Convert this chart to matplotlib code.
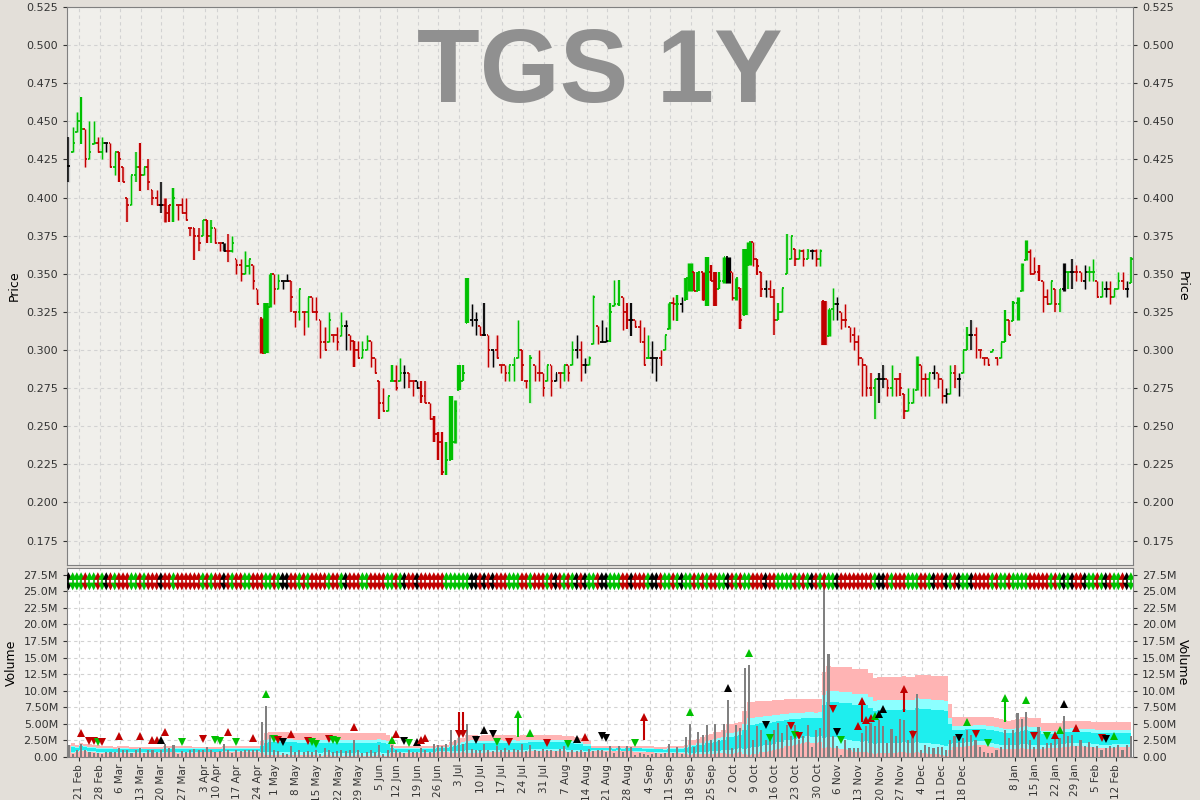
import matplotlib
matplotlib.use('Agg')
import matplotlib.pyplot as plt
import numpy as np
import pandas as pd

plt.rcParams['font.family'] = ['DejaVu Sans']

# ---- price bars, read left to right in four stretches (high, low, close, colour) ----
# colour: g = up day, r = down day, k = unchanged
high_1 = [.440,.446,.456,.466,.445,.450,.450,.440,.440,.436,.436,.430,.430,.420,.400,.415,.430,.436,.420,.425,
          .405,.405,.410,.400,.395,.406,.395,.400,.400,.380,.380,.380,.385,.385,.385,.380,.370,.370,.376,.375,
          .360,.360,.365,.360,.356,.340,.321,.331,.350,.350,.350,.345,.350,.345,.325,.340,.325,.335,.335,.335,
          .320,.315,.325,.310,.315]
low_1 = [.410,.430,.443,.435,.420,.425,.435,.430,.425,.430,.420,.415,.410,.410,.384,.395,.410,.404,.415,.405,
         .395,.395,.390,.384,.384,.384,.385,.390,.385,.375,.359,.365,.375,.370,.370,.370,.365,.365,.358,.364,
         .350,.345,.350,.350,.340,.330,.298,.298,.328,.330,.340,.340,.345,.325,.315,.320,.310,.315,.325,.320,
         .295,.300,.305,.305,.300]
close_1 = [.421,.436,.450,.445,.425,.430,.436,.430,.436,.436,.420,.430,.425,.410,.395,.415,.420,.415,.420,.410,
           .400,.395,.395,.390,.395,.400,.395,.390,.385,.380,.375,.370,.385,.375,.380,.370,.370,.365,.365,.370,
           .356,.350,.355,.360,.345,.330,.298,.320,.350,.340,.345,.345,.345,.335,.325,.340,.325,.335,.325,.325,
           .305,.300,.320,.310,.305]
colour_1 = "kgggrggrgkrgrrrggrgrrrkrrgrrrrrrgrgrrkrgrrggrrrgg" "rgkkrrgrgrrrrgrr"

high_2 = [.325,.320,.310,.306,.306,.306,.310,.306,.295,.280,.275,.270,.290,.290,.295,.290,.285,.280,.280,.280,
          .280,.265,.257,.246,.246,.240,.270,.267,.290,.290,.347,.330,.325,.316,.331,.310,.300,.310,.290,.290,
          .290,.295,.320,.300,.280,.297,.290,.300,.285,.290,.290,.285,.285,.290,.290,.306,.310,.306,.295,.296,
          .336,.316,.320]
low_2 = [.309,.300,.300,.289,.295,.295,.300,.289,.285,.255,.260,.260,.280,.274,.280,.275,.275,.270,.275,.265,
         .265,.255,.240,.228,.218,.218,.228,.239,.274,.280,.318,.316,.310,.310,.309,.289,.289,.295,.285,.280,
         .280,.280,.295,.280,.275,.265,.280,.280,.270,.280,.270,.280,.275,.280,.280,.290,.295,.280,.285,.290,
         .304,.304,.305]
close_2 = [.316,.316,.306,.300,.295,.300,.306,.295,.285,.265,.260,.270,.280,.275,.285,.285,.280,.280,.275,.270,
           .265,.255,.245,.240,.220,.228,.240,.260,.280,.285,.320,.320,.320,.310,.310,.300,.300,.295,.290,.285,
           .290,.295,.300,.290,.280,.295,.285,.285,.275,.290,.280,.285,.285,.290,.285,.300,.300,.290,.290,.295,
           .335,.305,.305]
colour_2 = "gkrrrggrrrrggrgkrrkrrrrrrggggggkkrkrkrrrgggrrgrrrgrkrgrgkrkggrk"

high_3 = [.315,.331,.346,.346,.335,.331,.331,.320,.320,.315,.310,.306,.295,.300,.310,.331,.335,.336,.335,.347,
          .357,.351,.351,.351,.361,.356,.351,.351,.361,.361,.351,.347,.341,.366,.371,.371,.360,.351,.346,.346,
          .340,.331,.341,.376,.375,.366,.366,.366,.366,.366,.366,.366,.332,.327,.341,.335,.325,.330,.315,.315,
          .310]
low_3 = [.305,.305,.329,.329,.313,.314,.309,.315,.305,.290,.295,.285,.280,.290,.300,.314,.320,.319,.325,.333,
         .339,.339,.339,.333,.329,.345,.329,.340,.344,.344,.333,.333,.314,.323,.356,.355,.349,.335,.335,.335,
         .310,.320,.325,.350,.360,.355,.360,.355,.360,.360,.355,.355,.303,.309,.320,.320,.314,.315,.305,.300,
         .290]
close_3 = [.306,.325,.330,.341,.325,.320,.320,.315,.305,.290,.295,.295,.295,.290,.310,.331,.330,.330,.330,.347,
           .351,.339,.351,.333,.351,.345,.340,.345,.361,.351,.334,.347,.320,.356,.371,.360,.355,.340,.340,.335,
           .320,.325,.341,.360,.375,.360,.365,.360,.365,.365,.360,.365,.305,.327,.330,.330,.320,.320,.310,.305,
           .295]
colour_3 = "kgggrrkrrrgkkrggrgkggrgrgrrggkrgrggrrrkrrggggrgrgkrgrggkrrrrr"

high_4 = [.295,.290,.285,.281,.285,.290,.281,.290,.281,.285,.271,.275,.275,.296,.290,.285,.285,.290,.285,.281,
          .275,.290,.290,.285,.300,.315,.320,.315,.300,.295,.295,.300,.295,.305,.326,.320,.332,.335,.357,.372,
          .366,.361,.356,.345,.340,.345,.340,.340,.357,.351,.360,.356,.351,.356,.355,.360,.345,.345,.345,.345,
          .340,.351,.351,.345,.361]
low_4 = [.270,.270,.270,.255,.265,.275,.270,.270,.270,.270,.255,.260,.265,.274,.270,.270,.270,.281,.275,.265,
         .265,.271,.275,.270,.285,.300,.300,.295,.295,.290,.290,.299,.290,.295,.305,.310,.319,.320,.339,.359,
         .350,.350,.345,.325,.330,.330,.325,.325,.339,.340,.340,.345,.345,.340,.345,.345,.335,.335,.335,.330,
         .335,.340,.340,.335,.344]
close_4 = [.290,.275,.275,.281,.281,.281,.275,.285,.281,.275,.260,.265,.271,.290,.281,.281,.285,.285,.281,.270,
           .271,.285,.281,.281,.300,.310,.310,.300,.300,.295,.290,.300,.295,.305,.320,.310,.331,.331,.356,.364,
           .350,.351,.351,.335,.330,.345,.330,.340,.351,.351,.351,.351,.345,.351,.351,.351,.335,.340,.340,.335,
           .340,.345,.340,.340,.360]
colour_4 = "rrrgkkrgrrrgggrrgkrrkgrkggkrrrrgrggrggggrrrrrgrgkgkrrkggrgkrggrkg"

# ---- daily volume, millions ----
volume_m = [1.75,0.5,1.1,1.9,1.0,0.75,0.6,0.6,0.5,0.75, 0.75,0.75,1.4,1.0,1.1,0.6,1.0,1.4,0.6,1.0,
            1.0,0.75,1.0,1.9,1.4,1.75,0.5,0.9,0.75,1.0, 1.25,1.0,1.0,1.5,1.1,0.75,0.9,2.0,1.1,0.6,
            1.0,0.9,1.0,1.0,1.0,1.0,
            5.25,7.75,3.25,1.0,0.9, 0.6,0.5,1.6,0.75,1.0, 0.75,0.9,0.75,1.0,0.5, 1.4,1.0,0.75,0.9,1.1,
            0.9,1.1,2.6,1.0,0.6, 0.75,1.0,0.75,1.75,0.5, 1.0,1.75,1.0,0.75,0.6, 1.0,0.75,0.75,1.4,1.0,
            0.75,1.9,1.75,1.6,1.9, 4.1,2.6,4.5,2.0,5.0, 1.25,1.0,1.1,2.0,1.1, 0.9,1.6,1.0,1.4,1.1,
            1.25,1.0,2.0,0.9,1.75, 1.1,0.9,1.25,1.0,1.1, 0.9,1.25,1.6,0.75,1.1, 0.9,
            1.0,0.8,1.2,0.9,1.0,
            1.05,0.8,1.6,0.55,1.6,0.8,1.6,1.55,0.3,0.55, 0.45,0.3,0.45,0.55,0.45,0.55,1.95,0.55,1.55,0.4,
            3.0,5.0,1.45,3.7,3.3,4.8,2.6,5.0,2.6,5.0, 8.6,1.3,4.8,4.3,13.4,13.9,2.6,4.6,4.1,2.6,
            2.6,4.0,5.1,3.6,4.8,3.1,4.8,2.6,3.1,4.8, 1.55,4.1,4.3,27.5,15.6,3.1,1.7,0.3,2.6,1.3,
            1.3,1.3,3.6,4.6,5.1,4.7,5.6,4.7,2.1,4.2, 3.1,5.7,5.6,2.6,4.1,9.5,1.05,1.8,1.55,1.3,
            1.55,1.55,1.05,2.6,3.1,2.3,2.8,4.1,3.3,2.6, 1.55,0.8,0.55,0.65,1.05,1.55,4.0,2.8,4.0,6.6,
            5.8,6.8,2.6,1.55,4.5,1.55,2.1,2.1,2.7,2.8, 6.2,3.1,3.3,1.65,2.6,1.65,2.3,1.45,1.65,1.05,
            1.3,1.65,1.45,1.8,1.05,1.8,3.1]

# volume signals: (day, level in M, colour, pointing up?)
signals = [(3,3.6,'r',1),(5,2.4,'r',0),(6,2.4,'r',0),(7,2.25,'g',0),(8,2.25,'r',0),(12,3.1,'r',1),
           (17,3.1,'r',1),(20,2.5,'r',1),(21,2.5,'r',1),(22,2.6,'k',1),(23,3.75,'r',1),(27,2.25,'g',0),
           (32,2.75,'r',0),(35,2.6,'g',0),(36,2.4,'g',0),(38,3.75,'r',1),(40,2.25,'g',0),(44,2.85,'r',1),
           (47,9.5,'g',1),(49,2.75,'g',0),(50,2.5,'r',0),(51,2.25,'k',0),(53,3.5,'r',1),(57,2.4,'r',0),
           (58,2.25,'g',0),(59,1.9,'g',0),(62,2.75,'r',0),(63,2.6,'g',0),(64,2.4,'g',0),(68,4.5,'r',1),
           (77,2.5,'g',1),(78,3.5,'r',1),(80,2.4,'k',0),(81,2.1,'g',0),(83,2.25,'k',1),(84,2.5,'r',1),
           (85,2.85,'r',1),(93,3.5,'r',0),(94,3.5,'r',0),(97,2.5,'k',0),(99,4.0,'k',1),(101,3.4,'k',0),
           (102,2.25,'g',0),(105,2.25,'r',0),(107,6.5,'g',1),(110,3.6,'g',1),(114,2.1,'r',0),
           (119,1.9,'g',0),(121,2.75,'k',1),(123,3.0,'r',1),(127,3.1,'k',0),(128,2.8,'k',0),
           (135,2.15,'g',0),(137,6.0,'r',1),(148,6.8,'g',1),(157,10.4,'k',1),(162,15.7,'g',1),
           (166,4.8,'k',0),(167,2.8,'g',0),(172,4.7,'r',0),(173,3.3,'g',0),(174,3.1,'r',0),
           (182,7.2,'r',0),(183,3.7,'k',0),(184,2.6,'g',0),(188,4.7,'r',1),(189,8.5,'r',1),
           (190,5.6,'r',1),(191,5.9,'r',1),(192,6.2,'g',1),(193,6.5,'k',1),(194,7.3,'k',1),
           (199,10.3,'r',1),(201,3.3,'r',0),(212,2.8,'k',0),(214,5.3,'g',1),(216,3.4,'r',0),
           (219,2.05,'g',0),(223,8.9,'g',1),(228,8.6,'g',1),(230,3.1,'r',0),(233,3.2,'g',0),
           (235,3.3,'r',1),(236,4.1,'g',1),(237,8.0,'k',1),(240,4.3,'r',1),(246,2.8,'r',0),
           (247,2.7,'k',0),(249,3.2,'g',1)]
# signals drawn with a stem: (day, stem start, stem end, colour)
stems = [(93,3.5,6.75,'r'),(94,3.5,6.75,'r'),(107,3.0,6.5,'g'),(137,2.6,6.0,'r'),
         (189,5.3,8.5,'r'),(199,6.8,10.3,'r'),(223,5.3,8.9,'g')]

tick_labels = ['21 Feb','28 Feb','6 Mar','13 Mar','20 Mar','27 Mar','3 Apr','10 Apr','17 Apr','24 Apr',
               '1 May','8 May','15 May','22 May','29 May','5 Jun','12 Jun','19 Jun','26 Jun','3 Jul',
               '10 Jul','17 Jul','24 Jul','31 Jul','7 Aug','14 Aug','21 Aug','28 Aug','4 Sep','11 Sep',
               '18 Sep','25 Sep','2 Oct','9 Oct','16 Oct','23 Oct','30 Oct','6 Nov','13 Nov','20 Nov',
               '27 Nov','4 Dec','11 Dec','18 Dec','8 Jan','15 Jan','22 Jan','29 Jan','5 Feb','12 Feb']
tick_pos = [2.5,7.4,12.3,17.2,22.1,27.2,32.4,35.3,40.2,45.1,49.2,54.1,59.2,64.4,69.3,74.2,78.3,83.2,
            88.1,93.1,98.2,103.3,108.2,113.3,118.5,123.4,128.2,133.3,138.4,143.3,148.3,153.3,158.5,
            163.4,168.3,173.3,178.4,183.3,188.2,193.4,198.3,203.2,208.1,213.0,225.3,230.2,235.1,
            239.6,244.6,249.5]

highs = np.array(high_1 + high_2 + high_3 + high_4)
lows = np.array(low_1 + low_2 + low_3 + low_4)
closes = np.array(close_1 + close_2 + close_3 + close_4)
colours = colour_1 + colour_2 + colour_3 + colour_4
vol = np.array(volume_m)
n = len(closes)
days = np.arange(n)

col_map = {'g': '#00c000', 'r': '#c00000', 'k': '#000000'}
halo_map = {'g': '#c4ecc4', 'r': '#f2caca', 'k': '#cccccc'}
opens = np.clip(np.r_[closes[0], closes[:-1]], lows, highs)

# 30 day volume average and spread, used for the bands and the bar thickness
vs = pd.Series(vol)
m = vs.rolling(30, min_periods=1).mean()
sd = vs.rolling(30, min_periods=2).std(ddof=0).fillna(0)

fig = plt.figure(figsize=(12, 8), dpi=100, facecolor='#e3dfd9')
ax = fig.add_axes([67/1200, 1 - 565/800, 1066/1200, 558/800], facecolor='#f0efeb')
ax2 = fig.add_axes([67/1200, 1 - 757/800, 1066/1200, 189/800], facecolor='white', sharex=ax)

# bar thickness follows volume relative to its recent average
rel = (vol / m.values)[:n]
bar_px = np.clip(0.4 + 1.1 * rel, 1.3, 5.5)
bar_lw = bar_px * 72 / 100
for i in range(n):
    c = col_map[colours[i]]
    ax.vlines(i, lows[i], highs[i], color=halo_map[colours[i]], lw=bar_lw[i] + 1.4, zorder=2)
    ax.vlines(i, lows[i], highs[i], color=c, lw=bar_lw[i], zorder=3)
    ax.hlines(opens[i], i - 0.45, i, color=c, lw=1.3, zorder=3)
    ax.hlines(closes[i], i, i + 0.45, color=c, lw=1.3, zorder=3)

ax.text(0.5, 0.83, 'TGS 1Y', transform=ax.transAxes, ha='center', va='baseline',
        fontsize=74, fontweight='bold', color='#909090', family=['Liberation Sans'], zorder=1)

ax.set_ylim(0.159, 0.525)
ax.set_yticks(np.arange(0.175, 0.5251, 0.025))
ax.yaxis.set_major_formatter(plt.FuncFormatter(lambda v, p: f'{v:.3f}'))
ax.set_xlim(-0.35, 253.5)
ax.set_xticks(tick_pos)
ax.tick_params(axis='x', labelbottom=False, length=0)
ax.tick_params(axis='y', labelsize=8, labelright=True, right=True, length=3, colors='#333333')
ax.set_ylabel('Price', fontsize=9)
ax.text(1.0465, 0.5, 'Price', transform=ax.transAxes, rotation=270, va='center', ha='center', fontsize=9)

# volume panel: average bands behind the bars
ax2.fill_between(days, 0, m + 1.5 * sd, step='mid', color='#ffb4b4', lw=0, zorder=1)
ax2.fill_between(days, (m - 0.8 * sd).clip(lower=0), m + 0.8 * sd, step='mid', color='#8cffff', lw=0, zorder=1)
ax2.fill_between(days, (m - 0.5 * sd).clip(lower=0), m + 0.5 * sd, step='mid', color='#1eeeee', lw=0, zorder=1)
ax2.bar(days, vol, width=0.5, color='#808080', zorder=2)

for d, a, b, c in stems:
    ax2.vlines(d, a, b, color=col_map[c], lw=1.5, zorder=3)
for d, v, c, up in signals:
    ax2.plot(d, v, marker='^' if up else 'v', color=col_map[c], ms=5.5, mew=0, zorder=4)

# direction strip along the top of the volume panel
strip_cols = [col_map[c] for c in colours]
ax2.vlines(days, 25.6, 27.4, colors=strip_cols, lw=1.2, zorder=3)
ax2.scatter(days, np.full(n, 27.3), marker='^', c=strip_cols, s=30, lw=0, zorder=4)
ax2.scatter(days, np.full(n, 25.7), marker='v', c=strip_cols, s=30, lw=0, zorder=4)

vticks = np.arange(0, 27.51, 2.5)
ax2.set_ylim(0, 28.5)
ax2.set_yticks(vticks)
ax2.set_yticklabels(['0.00' if v == 0 else (f'{v:.2f}M' if v < 10 else f'{v:.1f}M') for v in vticks])
ax2.set_xticks(tick_pos)
ax2.set_xticklabels(tick_labels, rotation=90)
ax2.tick_params(axis='x', labelsize=7.5, length=3, pad=2, colors='#333333')
ax2.tick_params(axis='y', labelsize=8, labelright=True, right=True, length=3, colors='#333333')
ax2.set_ylabel('Volume', fontsize=9)
ax2.text(1.0465, 0.5, 'Volume', transform=ax2.transAxes, rotation=270, va='center', ha='center', fontsize=9)

for a in (ax, ax2):
    a.set_axisbelow(True)
    a.grid(True, color='#d2d2d2', lw=0.8, ls=(0, (3, 3)))
    for s in a.spines.values():
        s.set_color('#808080')

fig.savefig('out.png', dpi=100, facecolor=fig.get_facecolor())
